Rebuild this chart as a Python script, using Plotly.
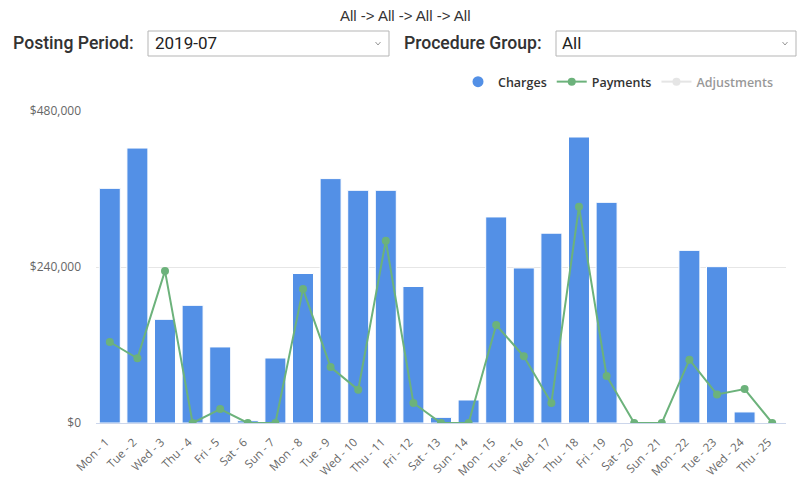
import plotly.graph_objects as go

days = ["Mon - 1", "Tue - 2", "Wed - 3", "Thu - 4", "Fri - 5", "Sat - 6", "Sun - 7",
        "Mon - 8", "Tue - 9", "Wed - 10", "Thu - 11", "Fri - 12", "Sat - 13", "Sun - 14",
        "Mon - 15", "Tue - 16", "Wed - 17", "Thu - 18", "Fri - 19", "Sat - 20", "Sun - 21",
        "Mon - 22", "Tue - 23", "Wed - 24", "Thu - 25"]
charges = [361000, 423000, 159500, 181000, 117000, 3500, 100000,
           230000, 376000, 358000, 358000, 210000, 8700, 35400,
           317000, 238500, 292000, 440000, 339500, 0, 0,
           265600, 240500, 17000, 0]
payments = [124600, 99500, 234000, 0, 21500, 0, 0,
            206000, 86000, 51000, 280500, 30800, 0, 0,
            150800, 102600, 30800, 332800, 72300, 0, 0,
            97400, 44000, 52300, 0]
adjustments = [0] * 25
y_ticks = [0, 240000, 480000]
y_tick_labels = ["$0", "$240,000", "$480,000"]
title_text = "All -> All -> All -> All"
period_label, period_value = "Posting Period:", "2019-07"
group_label, group_value = "Procedure Group:", "All"

W, H = 799, 478
L, R, T, B = 96, 786, 111, 423

def px(x):
    return (x - L) / (R - L)

def py(y):
    return (B - y) / (B - T)

BLUE = "#5390e6"
GREEN = "#6cb27b"
FONT = "Roboto, 'Open Sans', sans-serif"
TICKFONT = "'Open Sans', 'DejaVu Sans', sans-serif"
LABELFONT = "'Roboto Medium', Roboto, sans-serif"

fig = go.Figure()
fig.add_trace(go.Bar(x=days, y=charges, name="Charges", marker=dict(color=BLUE, line=dict(color="white", width=1)),
                     showlegend=False, legendgroup="c"))
fig.add_trace(go.Scatter(x=[None], y=[None], mode="markers", name="Charges",
                         marker=dict(color=BLUE, size=11, symbol="circle"), legendgroup="c"))
fig.add_trace(go.Scatter(x=days, y=payments, name="Payments", mode="lines+markers",
                         line=dict(color=GREEN, width=2), marker=dict(color=GREEN, size=8)))
fig.add_trace(go.Scatter(x=days, y=adjustments, name="Adjustments", mode="lines+markers",
                         line=dict(color="#cccccc", width=2), marker=dict(color="#cccccc", size=8),
                         visible="legendonly"))

def ann(text, x, y, size, color, family, xanchor="left"):
    return dict(text=text, x=px(x), y=py(y), xref="paper", yref="paper", showarrow=False,
                xanchor=xanchor, yanchor="middle", font=dict(size=size, color=color, family=family))

annotations = [
    ann(title_text, 405, 15, 15, "#333333", "'Liberation Sans', Arial, sans-serif", "center"),
    ann(period_label, 11, 43, 17.6, "#333333", LABELFONT),
    ann(period_value, 153, 43, 17, "#222222", FONT),
    ann(group_label, 402, 43, 17.6, "#333333", LABELFONT),
    ann(group_value, 560, 43, 17, "#222222", FONT),
]
shapes = []
for x0, x1 in [(148, 389), (556, 796)]:
    shapes.append(dict(type="rect", xref="paper", yref="paper", x0=px(x0), x1=px(x1), y0=py(56), y1=py(31),
                       line=dict(color="#b5b5b5", width=1), fillcolor="white", layer="below"))
    cx = x1 - 11
    shapes.append(dict(type="path", xref="paper", yref="paper", layer="above",
                       path=f"M {px(cx-2.5)} {py(42)} L {px(cx)} {py(45)} L {px(cx+2.5)} {py(42)}",
                       line=dict(color="#999999", width=1)))

fig.update_layout(
    width=W, height=H,
    margin=dict(l=L, r=W - R, t=T, b=H - B, autoexpand=False),
    plot_bgcolor="white", paper_bgcolor="white",
    bargap=0.24,
    font=dict(family=FONT, color="#666666", size=11),
    shapes=shapes, annotations=annotations,
    legend=dict(orientation="h", x=px(779), xanchor="right", y=py(82), yanchor="middle",
                font=dict(size=12.5, color="#333333", family="'Open Sans', sans-serif", weight=600),
                itemwidth=30, bgcolor="rgba(0,0,0,0)"),
    xaxis=dict(tickangle=-45, showline=True, linecolor="#ccd6eb", linewidth=1, ticks="",
               tickfont=dict(size=11.5, color="#666666", family=TICKFONT), showgrid=False,
               automargin=False, range=[-0.5, len(days) - 0.5],
               ticklabelstandoff=7, ticklabelshift=-4),
    yaxis=dict(range=[0, 480000], tickvals=y_ticks, ticktext=y_tick_labels,
               gridcolor="#e6e6e6", zeroline=False, tickfont=dict(size=12, color="#666666", family=TICKFONT),
               ticklabelstandoff=14, automargin=False),
    hovermode="x",
)
fig.write_html("out.html", config={"displayModeBar": False},
               post_script="document.body.style.margin='0';document.body.style.overflow='hidden';")
